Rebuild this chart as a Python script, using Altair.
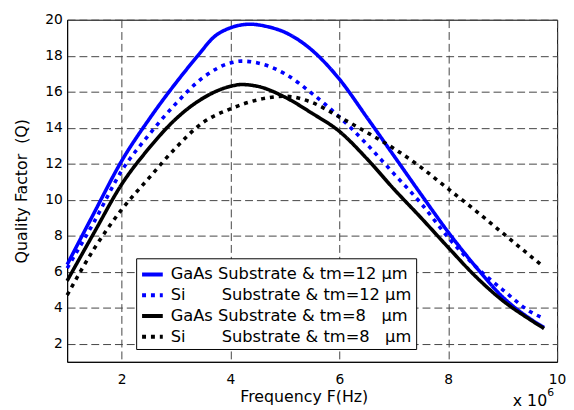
import altair as alt
import pandas as pd

NB = "\u00a0"
series_names = [
    "GaAs Substrate & tm=12 μm",
    "Si" + NB * 7 + "Substrate & tm=12 μm" + NB * 3,
    "GaAs Substrate & tm=8" + NB * 3 + "μm",
    "Si" + NB * 7 + "Substrate & tm=8" + NB * 3 + "μm",
]
series_colors = ["#0000ff", "#0000ff", "#000000", "#000000"]
series_dash = [[1, 0], [4, 5], [1, 0], [4, 5]]

gaas12_x = [1.0, 1.5, 2.0, 2.5, 3.0, 3.4, 3.7, 4.0, 4.36, 4.7, 5.0, 5.5, 6.0, 6.5, 7.0, 7.5, 8.0, 8.5, 9.0, 9.5, 9.76]
gaas12_q = [6.4, 9.3, 12.15, 14.45, 16.5, 18.0, 19.05, 19.55, 19.75, 19.6, 19.3, 18.3, 16.7, 14.6, 12.45, 10.3, 8.2, 6.3, 4.6, 3.4, 2.9]

si12_x = [1.0, 1.5, 2.0, 2.5, 3.0, 3.5, 4.0, 4.2, 4.5, 5.0, 5.5, 6.0, 6.5, 7.0, 7.5, 8.0, 8.5, 9.0, 9.5, 9.76]
si12_q = [6.2, 8.8, 11.6, 13.6, 15.35, 16.8, 17.6, 17.7, 17.6, 17.0, 15.9, 14.6, 13.1, 11.45, 9.8, 7.9, 6.3, 5.0, 3.8, 3.4]

gaas8_x = [1.0, 1.5, 2.0, 2.5, 3.0, 3.5, 4.0, 4.2, 4.5, 5.0, 5.5, 6.0, 6.5, 7.0, 7.5, 8.0, 8.5, 9.0, 9.5, 9.76]
gaas8_q = [5.5, 8.2, 10.85, 12.85, 14.5, 15.65, 16.3, 16.4, 16.3, 15.7, 14.8, 13.8, 12.3, 10.6, 9.0, 7.35, 5.75, 4.4, 3.35, 2.85]

si8_x = [1.0, 1.5, 2.0, 2.5, 3.0, 3.5, 4.0, 4.5, 5.0, 5.5, 6.0, 6.5, 7.0, 7.5, 8.0, 8.5, 9.0, 9.5, 9.73]
si8_q = [4.7, 7.3, 9.45, 11.2, 12.9, 14.3, 15.05, 15.55, 15.75, 15.4, 14.6, 13.75, 12.85, 11.8, 10.6, 9.4, 8.15, 6.9, 6.33]

x_ticks = [2, 4, 6, 8, 10]
y_ticks = [2, 4, 6, 8, 10, 12, 14, 16, 18, 20]

rows = []
for name, xs, qs in zip(series_names, [gaas12_x, si12_x, gaas8_x, si8_x], [gaas12_q, si12_q, gaas8_q, si8_q]):
    for x, q in zip(xs, qs):
        rows.append({"series": name, "x": x, "q": q})
df = pd.DataFrame(rows)

FONT = "DejaVu Sans"
W, H = 497, 347

legend = alt.Legend(
    title=None, orient="none", legendX=70, legendY=242, direction="vertical",
    strokeColor="black", fillColor="white", padding=4, cornerRadius=0,
    symbolType="stroke", symbolSize=441, symbolStrokeWidth=4,
    labelFont=FONT, labelFontSize=16.5, labelColor="black", labelOffset=6,
    rowPadding=0, labelLimit=500,
)

lines = alt.Chart(df).mark_line(strokeWidth=3.6, interpolate="monotone", strokeCap="butt").encode(
    x=alt.X("x:Q", scale=alt.Scale(domain=[1, 10], nice=False, zero=False),
            axis=alt.Axis(values=x_ticks, title="Frequency F(Hz)", grid=True, ticks=False,
                          labelFlush=False, labelOverlap=False, labelPadding=11,
                          titleX=240, titleY=40, titleBaseline="alphabetic", titleAlign="center")),
    y=alt.Y("q:Q", scale=alt.Scale(domain=[1, 20], nice=False, zero=False),
            axis=alt.Axis(values=y_ticks, title="Quality Factor" + NB * 2 + "(Q)", grid=True, ticks=False,
                          labelFlush=False, labelOverlap=False, labelPadding=5,
                          titleX=-46, titleY=H / 2, titleAngle=270, titleBaseline="middle", titleAlign="center")),
    color=alt.Color("series:N", scale=alt.Scale(domain=series_names, range=series_colors), legend=legend),
    strokeDash=alt.StrokeDash("series:N", scale=alt.Scale(domain=series_names, range=series_dash), legend=legend),
    order=alt.Order("series:N"),
)

exp_df = pd.DataFrame({"t": ["x 10"]})
exp_text = alt.Chart(exp_df).mark_text(font=FONT, fontSize=16, align="left", baseline="alphabetic", color="black").encode(
    x=alt.value(452), y=alt.value(392), text="t:N")
sup_df = pd.DataFrame({"t": ["6"]})
sup_text = alt.Chart(sup_df).mark_text(font=FONT, fontSize=11, align="left", baseline="alphabetic", color="black").encode(
    x=alt.value(487), y=alt.value(382), text="t:N")

chart = alt.layer(lines, exp_text, sup_text).properties(
    width=W, height=H,
    autosize=alt.AutoSizeParams(type="none"),
    padding={"left": 60, "top": 9, "right": 9, "bottom": 46},
    background="white",
).configure_view(stroke="black", strokeWidth=1).configure_axis(
    domainColor="black", gridColor="#444444", gridDash=[8, 4], gridWidth=1, gridOpacity=1,
    labelFont=FONT, labelFontSize=14, labelColor="black",
    titleFont=FONT, titleFontSize=16, titleColor="black", titleFontWeight="normal",
)

chart.save("out.html", embed_options={"renderer": "svg", "actions": False})
